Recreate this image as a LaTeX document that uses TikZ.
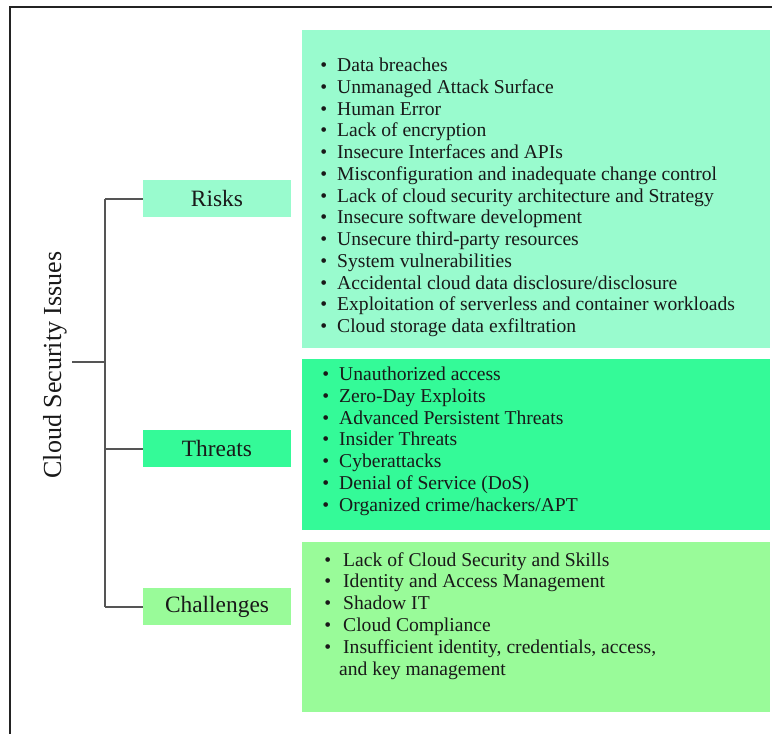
\documentclass[tikz,border=0pt]{standalone}
\usepackage{fontspec}
\setmainfont{Liberation Serif}
\definecolor{riskc}{RGB}{153,251,206}
\definecolor{threatc}{RGB}{52,250,152}
\definecolor{chalc}{RGB}{153,251,153}
\definecolor{linec}{RGB}{85,85,85}
\definecolor{framec}{RGB}{35,35,35}
\definecolor{txtc}{RGB}{25,25,25}
\begin{document}
\begin{tikzpicture}[x=1pt,y=-1pt,
  labelbox/.style={rectangle,inner sep=0pt,minimum width=148pt,minimum height=37pt,
    font=\fontsize{23.4}{26}\selectfont,text=txtc},
  detailbox/.style={rectangle,inner sep=0pt},
  item/.style={anchor=base west,inner sep=0pt,font=\fontsize{19.6}{22}\selectfont,text=txtc},
  tree/.style={draw=linec,line width=2pt},
  frame/.style={draw=framec,line width=2.5pt}]
\useasboundingbox (0,0) rectangle (772,734);
\fill[white] (0,0) rectangle (772,734);
% frame (top and left visible)
\coordinate (fbl) at (10,740);
\coordinate (ftl) at (10,7);
\coordinate (ftr) at (780,7);
\draw[frame] (fbl) -- (ftl) -- (ftr);
% detail boxes
\node[detailbox,fill=riskc,minimum width=468pt,minimum height=318pt,anchor=north west] (rbox) at (302,30) {};
\node[detailbox,fill=threatc,minimum width=468pt,minimum height=171pt,anchor=north west] (tbox) at (302,359) {};
\node[detailbox,fill=chalc,minimum width=468pt,minimum height=170pt,anchor=north west] (cbox) at (302,542) {};
% label boxes
\node[labelbox,fill=riskc] (risks) at (217,198.5) {Risks};
\node[labelbox,fill=threatc] (threats) at (217,448.5) {Threats};
\node[labelbox,fill=chalc] (chal) at (217,606.5) {Challenges};
% root
\node[rotate=90,inner sep=0pt,font=\fontsize{26}{30}\selectfont,text=txtc] (root) at (55,365) {Cloud Security Issues};
% tree
\coordinate (stubL) at (72,362);
\coordinate (stubR) at (105,362);
\coordinate (vtop) at (105,198.5);
\coordinate (vbot) at (105,606.5);
\draw[tree] (stubL) -- (stubR);
\draw[tree] (vtop) -- (vbot);
\draw[tree] (vtop) -- (risks.west);
\draw[tree] (105,448.5) -- (threats.west);
\draw[tree] (vbot) -- (chal.west);
% risks list
\foreach \t [count=\i] in {Data breaches, Unmanaged Attack Surface, Human Error, Lack of encryption,
  Insecure Interfaces and APIs, Misconfiguration and inadequate change control,
  Lack of cloud security architecture and Strategy, Insecure software development,
  Unsecure third-party resources, System vulnerabilities,
  Accidental cloud data disclosure/disclosure, Exploitation of serverless and container workloads,
  Cloud storage data exfiltration}
  \node[item] (r\i) at (337,{71.5+21.75*(\i-1)}) {\llap{\textbullet\hspace{10pt}}\t};
% threats list
\foreach \t [count=\i] in {Unauthorized access, Zero-Day Exploits, Advanced Persistent Threats,
  Insider Threats, Cyberattacks, Denial of Service (DoS), Organized crime/hackers/APT}
  \node[item] (t\i) at (339,{380.5+21.8*(\i-1)}) {\llap{\textbullet\hspace{10pt}}\t};
% challenges list
\foreach \t [count=\i] in {Lack of Cloud Security and Skills, Identity and Access Management,
  Shadow IT, Cloud Compliance, {Insufficient identity, credentials, access,}}
  \node[item] (c\i) at (343,{566+21.8*(\i-1)}) {\llap{\textbullet\hspace{12pt}}\t};
\node[item] (c6) at (339,{566+21.8*5}) {and key management};
\end{tikzpicture}
\end{document}
